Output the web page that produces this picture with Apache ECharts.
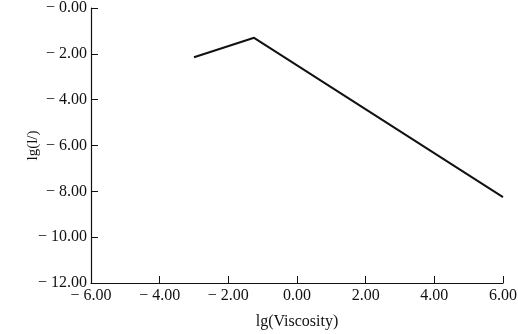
<!DOCTYPE html>
<html>
<head>
<meta charset="utf-8">
<script src="https://cdn.jsdelivr.net/npm/echarts@6/dist/echarts.min.js"></script>
<style>
html,body{margin:0;padding:0;background:#fff;}
#chart{width:518px;height:334px;}
</style>
</head>
<body>
<div id="chart"></div>
<script>
// 数据
var xValues = [-3.0, -1.25, 6.0];
var yValues = [-2.15, -1.3, -8.25];
var xTicks = [-6, -4, -2, 0, 2, 4, 6];
var yTicks = [0, -2, -4, -6, -8, -10, -12];

var myChart = echarts.init(document.getElementById('chart'));
var font = '"Liberation Serif", "DejaVu Serif", serif';

var option = {
    animation: false,
    grid: { left: 91, right: 15, top: 8, bottom: 51, containLabel: false, outerBoundsMode: 'none' },
    xAxis: {
        type: 'value',
        min: xTicks[0], max: xTicks[xTicks.length - 1], interval: 2,
        name: 'lg(Viscosity)',
        nameLocation: 'middle',
        nameGap: 31,
        nameTextStyle: { color: '#111', fontFamily: font, fontSize: 16 },
        axisLine: { show: true, onZero: false, lineStyle: { color: '#111', width: 1.2 } },
        axisTick: { show: true, inside: true, length: 7, lineStyle: { color: '#111' } },
        axisLabel: {
            color: '#111', fontFamily: font, fontSize: 16, margin: 5,
            formatter: function (v) { return v < 0 ? '\u2212 ' + Math.abs(v).toFixed(2) : v.toFixed(2); }
        },
        splitLine: { show: false }
    },
    yAxis: {
        type: 'value',
        min: yTicks[yTicks.length - 1], max: yTicks[0], interval: 2,
        name: 'lg(l/)',
        nameLocation: 'middle',
        nameGap: 50,
        nameMoveOverlap: false,
        nameRotate: 90,
        nameTextStyle: { color: '#111', fontFamily: font, fontSize: 15 },
        axisLine: { show: true, onZero: false, lineStyle: { color: '#111', width: 1.2 } },
        axisTick: { show: true, inside: true, length: 7, lineStyle: { color: '#111' } },
        axisLabel: {
            color: '#111', fontFamily: font, fontSize: 16, margin: 4,
            formatter: function (v) { return '\u2212 ' + Math.abs(v).toFixed(2); }
        },
        splitLine: { show: false }
    },
    series: [{
        type: 'line',
        data: xValues.map(function (x, i) { return [x, yValues[i]]; }),
        showSymbol: false,
        lineStyle: { color: '#111', width: 2 }
    }]
};
myChart.setOption(option);
</script>
</body>
</html>
